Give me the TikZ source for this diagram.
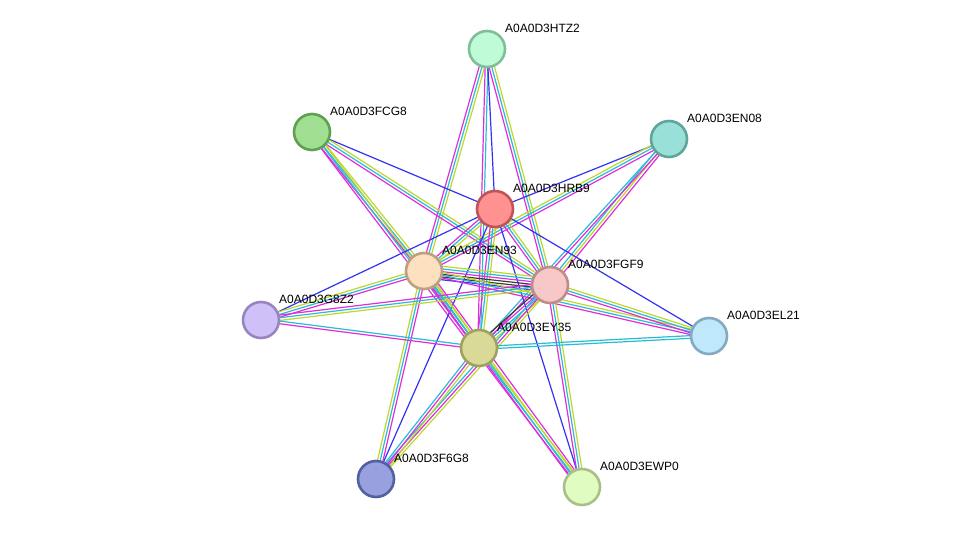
\documentclass[tikz,border=0pt]{standalone}
\usepackage{fontspec}
\setmainfont{Liberation Sans}
\usetikzlibrary{calc,backgrounds}

\definecolor{expcol}{RGB}{221,45,221}
\definecolor{dbcol}{RGB}{40,188,215}
\definecolor{txtcol}{RGB}{190,215,45}
\definecolor{occcol}{RGB}{50,50,240}
\definecolor{coexcol}{RGB}{60,60,60}

% parallel lines between two proteins, one per evidence colour
\newcommand{\link}[3]{%
  \foreach \c [count=\i] in {#3} {\xdef\nlinks{\i}}
  \foreach \c [count=\i] in {#3} {
    \pgfmathsetmacro{\off}{(\i-(\nlinks+1)/2)*2.7}
    \draw[\c] ($(#1.center)!\off pt!90:(#2.center)$) -- ($(#2.center)!\off pt!-90:(#1.center)$);
  }%
}

\begin{document}
\begin{tikzpicture}[x=1pt,y=-1pt,
  prot/.style={circle, draw, line width=2.6pt, minimum size=36pt, inner sep=0pt},
  lbl/.style={anchor=west, inner sep=0pt, font=\fontsize{12}{14}\selectfont},
  mline/.style={expcol, line width=1.2pt},
  cline/.style={dbcol, line width=1.2pt},
  yline/.style={txtcol, line width=1.2pt},
  bline/.style={occcol, line width=1.2pt},
  kline/.style={coexcol, line width=1.2pt}]
\useasboundingbox (0,0) rectangle (975,533);

\node at (487,49) [prot, fill={rgb,255:red,192;green,251;blue,216}, draw={rgb,255:red,128;green,190;blue,152}] (htz2) {};
\node at (312,132) [prot, fill={rgb,255:red,160;green,222;blue,145}, draw={rgb,255:red,95;green,160;blue,82}] (fcg8) {};
\node at (669,139) [prot, fill={rgb,255:red,153;green,224;blue,216}, draw={rgb,255:red,95;green,165;blue,156}] (en08) {};
\node at (495,209) [prot, fill={rgb,255:red,255;green,145;blue,145}, draw={rgb,255:red,190;green,85;blue,85}] (hrb9) {};
\node at (424,271) [prot, fill={rgb,255:red,253;green,224;blue,192}, draw={rgb,255:red,190;green,160;blue,128}] (en93) {};
\node at (550,285) [prot, fill={rgb,255:red,248;green,200;blue,200}, draw={rgb,255:red,190;green,140;blue,140}] (fgf9) {};
\node at (261,320) [prot, fill={rgb,255:red,208;green,192;blue,248}, draw={rgb,255:red,152;green,132;blue,192}] (g8z2) {};
\node at (479,348) [prot, fill={rgb,255:red,218;green,218;blue,152}, draw={rgb,255:red,160;green,160;blue,96}] (ey35) {};
\node at (709,336) [prot, fill={rgb,255:red,192;green,232;blue,252}, draw={rgb,255:red,132;green,170;blue,192}] (el21) {};
\node at (376,479) [prot, fill={rgb,255:red,152;green,160;blue,224}, draw={rgb,255:red,80;green,96;blue,160}] (f6g8) {};
\node at (582,487) [prot, fill={rgb,255:red,224;green,252;blue,192}, draw={rgb,255:red,168;green,192;blue,136}] (ewp0) {};

\begin{pgfonlayer}{background}
\link{htz2}{en93}{mline,cline,yline}
\link{htz2}{ey35}{mline,cline}
\link{htz2}{hrb9}{bline}
\link{htz2}{fgf9}{mline,cline,yline}
\link{fcg8}{hrb9}{bline}
\link{fcg8}{fgf9}{mline,cline,yline}
\link{fcg8}{en93}{mline,cline,yline}
\link{fcg8}{ewp0}{mline,cline,yline}
\link{en08}{hrb9}{bline}
\link{en08}{en93}{yline,cline,mline}
\link{en08}{fgf9}{cline,yline,mline}
\link{en08}{ey35}{cline,mline}
\link{hrb9}{g8z2}{bline}
\link{hrb9}{el21}{bline}
\link{hrb9}{f6g8}{bline}
\link{hrb9}{ewp0}{bline}
\link{hrb9}{en93}{mline,cline,yline}
\link{hrb9}{fgf9}{mline,cline,yline}
\link{hrb9}{ey35}{mline,cline,yline}
\link{en93}{fgf9}{bline,kline,kline,mline,cline,yline}
\link{en93}{ey35}{mline,cline,yline}
\link{en93}{g8z2}{yline,cline,mline}
\link{en93}{el21}{mline,cline,yline}
\link{en93}{f6g8}{yline,cline,mline}
\link{en93}{ewp0}{mline,cline,yline,mline}
\link{fgf9}{g8z2}{mline,cline,yline}
\link{fgf9}{ey35}{kline,mline,cline,yline}
\link{fgf9}{el21}{mline,cline,yline}
\link{fgf9}{f6g8}{cline,mline,yline}
\link{fgf9}{ewp0}{mline,cline,yline}
\link{ey35}{g8z2}{cline,mline}
\link{ey35}{el21}{cline,cline}
\link{ey35}{f6g8}{cline,mline,yline}
\end{pgfonlayer}

\node at ($(htz2)+(18,-21)$) [lbl] (htz2lbl) {A0A0D3HTZ2};
\node at ($(fcg8)+(18,-21)$) [lbl] (fcg8lbl) {A0A0D3FCG8};
\node at ($(en08)+(18,-21)$) [lbl] (en08lbl) {A0A0D3EN08};
\node at ($(hrb9)+(18,-21)$) [lbl] (hrb9lbl) {A0A0D3HRB9};
\node at ($(en93)+(18,-21)$) [lbl] (en93lbl) {A0A0D3EN93};
\node at ($(fgf9)+(18,-21)$) [lbl] (fgf9lbl) {A0A0D3FGF9};
\node at ($(g8z2)+(18,-21)$) [lbl] (g8z2lbl) {A0A0D3G8Z2};
\node at ($(ey35)+(18,-21)$) [lbl] (ey35lbl) {A0A0D3EY35};
\node at ($(el21)+(18,-21)$) [lbl] (el21lbl) {A0A0D3EL21};
\node at ($(f6g8)+(18,-21)$) [lbl] (f6g8lbl) {A0A0D3F6G8};
\node at ($(ewp0)+(18,-21)$) [lbl] (ewp0lbl) {A0A0D3EWP0};
\end{tikzpicture}
\end{document}
